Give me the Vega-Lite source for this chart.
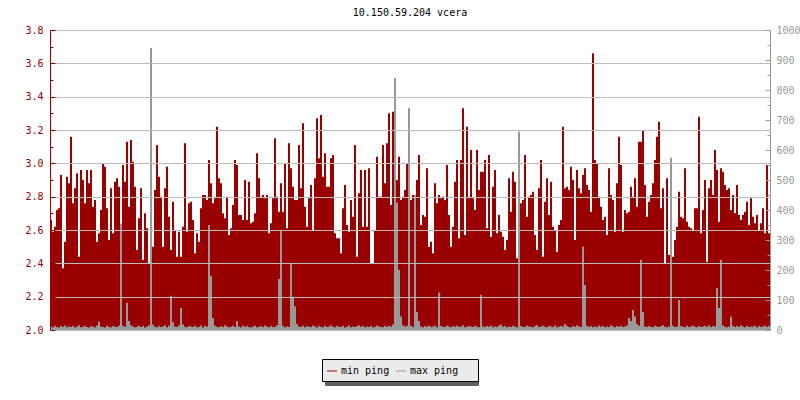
{
"$schema":"https://vega.github.io/schema/vega-lite/v6.json",
"width":720,"height":300,
"autosize":{"type":"none"},
"padding":{"left":50,"top":30,"right":30,"bottom":70},
"background":"white",
"config":{"view":{"stroke":null},"font":"DejaVu Sans Mono"},
"title":{"text":"10.150.59.204 vcera","font":"DejaVu Sans Mono","fontSize":10,"fontWeight":"normal","color":"#000000","anchor":"middle","frame":"group","offset":7},
"datasets":{"ping":[
{"i":0,"mn":2.66,"mx":12},{"i":1,"mn":2.59,"mx":9},{"i":2,"mn":2.62,"mx":14},{"i":3,"mn":2.72,"mx":10},{"i":4,"mn":2.73,"mx":8},{"i":5,"mn":2.93,"mx":13},{"i":6,"mn":2.37,"mx":11},{"i":7,"mn":2.53,"mx":15},{"i":8,"mn":2.92,"mx":9},{"i":9,"mn":2.88,"mx":12},
{"i":10,"mn":3.16,"mx":10},{"i":11,"mn":2.76,"mx":13},{"i":12,"mn":2.85,"mx":8},{"i":13,"mn":2.94,"mx":12},{"i":14,"mn":2.44,"mx":16},{"i":15,"mn":2.96,"mx":9},{"i":16,"mn":2.90,"mx":11},{"i":17,"mn":2.76,"mx":14},{"i":18,"mn":2.96,"mx":10},{"i":19,"mn":2.88,"mx":8},
{"i":20,"mn":2.96,"mx":13},{"i":21,"mn":2.74,"mx":11},{"i":22,"mn":2.78,"mx":9},{"i":23,"mn":2.53,"mx":15},{"i":24,"mn":2.58,"mx":28},{"i":25,"mn":2.72,"mx":12},{"i":26,"mn":3.00,"mx":10},{"i":27,"mn":2.98,"mx":8},{"i":28,"mn":2.73,"mx":14},{"i":29,"mn":2.54,"mx":11},
{"i":30,"mn":2.85,"mx":9},{"i":31,"mn":2.58,"mx":13},{"i":32,"mn":2.89,"mx":12},{"i":33,"mn":2.91,"mx":10},{"i":34,"mn":2.86,"mx":15},{"i":35,"mn":2.58,"mx":355},{"i":36,"mn":2.99,"mx":14},{"i":37,"mn":2.89,"mx":11},{"i":38,"mn":3.13,"mx":91},{"i":39,"mn":2.74,"mx":30},
{"i":40,"mn":3.14,"mx":16},{"i":41,"mn":3.01,"mx":12},{"i":42,"mn":2.86,"mx":9},{"i":43,"mn":2.48,"mx":11},{"i":44,"mn":2.67,"mx":14},{"i":45,"mn":2.85,"mx":10},{"i":46,"mn":2.42,"mx":13},{"i":47,"mn":2.70,"mx":8},{"i":48,"mn":2.61,"mx":12},{"i":49,"mn":2.40,"mx":15},
{"i":50,"mn":2.98,"mx":940},{"i":51,"mn":2.50,"mx":18},{"i":52,"mn":2.84,"mx":11},{"i":53,"mn":3.11,"mx":9},{"i":54,"mn":2.92,"mx":13},{"i":55,"mn":2.80,"mx":10},{"i":56,"mn":2.50,"mx":12},{"i":57,"mn":2.85,"mx":16},{"i":58,"mn":2.98,"mx":9},{"i":59,"mn":2.68,"mx":14},
{"i":60,"mn":2.48,"mx":114},{"i":61,"mn":2.77,"mx":26},{"i":62,"mn":2.60,"mx":12},{"i":63,"mn":2.44,"mx":10},{"i":64,"mn":2.59,"mx":15},{"i":65,"mn":2.44,"mx":73},{"i":66,"mn":2.62,"mx":18},{"i":67,"mn":3.12,"mx":11},{"i":68,"mn":2.59,"mx":9},{"i":69,"mn":2.76,"mx":13},
{"i":70,"mn":2.77,"mx":12},{"i":71,"mn":2.66,"mx":10},{"i":72,"mn":2.46,"mx":14},{"i":73,"mn":2.58,"mx":9},{"i":74,"mn":2.53,"mx":11},{"i":75,"mn":2.73,"mx":15},{"i":76,"mn":2.81,"mx":8},{"i":77,"mn":2.81,"mx":13},{"i":78,"mn":2.78,"mx":12},{"i":79,"mn":3.02,"mx":350},
{"i":80,"mn":2.88,"mx":180},{"i":81,"mn":2.76,"mx":40},{"i":82,"mn":2.79,"mx":14},{"i":83,"mn":3.22,"mx":11},{"i":84,"mn":2.91,"mx":9},{"i":85,"mn":2.88,"mx":13},{"i":86,"mn":2.70,"mx":10},{"i":87,"mn":2.67,"mx":16},{"i":88,"mn":2.80,"mx":12},{"i":89,"mn":2.57,"mx":9},
{"i":90,"mn":2.61,"mx":11},{"i":91,"mn":2.75,"mx":14},{"i":92,"mn":3.02,"mx":10},{"i":93,"mn":2.99,"mx":30},{"i":94,"mn":2.69,"mx":12},{"i":95,"mn":2.69,"mx":9},{"i":96,"mn":2.66,"mx":15},{"i":97,"mn":2.90,"mx":11},{"i":98,"mn":2.66,"mx":13},{"i":99,"mn":2.89,"mx":10},
{"i":100,"mn":2.64,"mx":8},{"i":101,"mn":2.65,"mx":12},{"i":102,"mn":2.70,"mx":14},{"i":103,"mn":3.06,"mx":9},{"i":104,"mn":2.91,"mx":11},{"i":105,"mn":2.80,"mx":13},{"i":106,"mn":2.81,"mx":10},{"i":107,"mn":2.79,"mx":15},{"i":108,"mn":2.81,"mx":12},{"i":109,"mn":2.58,"mx":9},
{"i":110,"mn":2.64,"mx":13},{"i":111,"mn":2.79,"mx":10},{"i":112,"mn":3.15,"mx":11},{"i":113,"mn":2.80,"mx":16},{"i":114,"mn":2.71,"mx":170},{"i":115,"mn":2.88,"mx":334},{"i":116,"mn":2.71,"mx":14},{"i":117,"mn":3.00,"mx":9},{"i":118,"mn":2.61,"mx":12},{"i":119,"mn":3.12,"mx":10},
{"i":120,"mn":2.97,"mx":224},{"i":121,"mn":2.86,"mx":111},{"i":122,"mn":2.78,"mx":78},{"i":123,"mn":2.78,"mx":20},{"i":124,"mn":3.11,"mx":12},{"i":125,"mn":2.85,"mx":10},{"i":126,"mn":3.24,"mx":14},{"i":127,"mn":2.74,"mx":9},{"i":128,"mn":2.62,"mx":13},{"i":129,"mn":2.79,"mx":11},
{"i":130,"mn":2.87,"mx":10},{"i":131,"mn":2.60,"mx":15},{"i":132,"mn":2.91,"mx":12},{"i":133,"mn":3.27,"mx":8},{"i":134,"mn":3.03,"mx":13},{"i":135,"mn":3.29,"mx":11},{"i":136,"mn":2.92,"mx":9},{"i":137,"mn":3.06,"mx":14},{"i":138,"mn":2.86,"mx":10},{"i":139,"mn":2.86,"mx":12},
{"i":140,"mn":3.03,"mx":16},{"i":141,"mn":3.05,"mx":11},{"i":142,"mn":2.58,"mx":9},{"i":143,"mn":2.55,"mx":13},{"i":144,"mn":2.55,"mx":12},{"i":145,"mn":2.46,"mx":10},{"i":146,"mn":2.73,"mx":14},{"i":147,"mn":2.87,"mx":8},{"i":148,"mn":2.63,"mx":11},{"i":149,"mn":2.59,"mx":15},
{"i":150,"mn":2.78,"mx":9},{"i":151,"mn":2.68,"mx":12},{"i":152,"mn":3.11,"mx":10},{"i":153,"mn":2.44,"mx":13},{"i":154,"mn":2.82,"mx":16},{"i":155,"mn":2.96,"mx":11},{"i":156,"mn":2.62,"mx":14},{"i":157,"mn":2.96,"mx":9},{"i":158,"mn":2.62,"mx":12},{"i":159,"mn":2.97,"mx":10},
{"i":160,"mn":2.40,"mx":13},{"i":161,"mn":2.40,"mx":8},{"i":162,"mn":2.60,"mx":11},{"i":163,"mn":3.04,"mx":15},{"i":164,"mn":2.80,"mx":12},{"i":165,"mn":2.80,"mx":10},{"i":166,"mn":3.11,"mx":9},{"i":167,"mn":2.88,"mx":14},{"i":168,"mn":3.12,"mx":11},{"i":169,"mn":3.30,"mx":13},
{"i":170,"mn":2.75,"mx":12},{"i":171,"mn":3.31,"mx":18},{"i":172,"mn":2.92,"mx":840},{"i":173,"mn":2.90,"mx":425},{"i":174,"mn":3.04,"mx":200},{"i":175,"mn":2.78,"mx":45},{"i":176,"mn":2.80,"mx":16},{"i":177,"mn":2.84,"mx":12},{"i":178,"mn":3.00,"mx":14},{"i":179,"mn":3.02,"mx":740},
{"i":180,"mn":2.78,"mx":14},{"i":181,"mn":2.81,"mx":10},{"i":182,"mn":2.70,"mx":451},{"i":183,"mn":2.90,"mx":60},{"i":184,"mn":3.05,"mx":30},{"i":185,"mn":2.63,"mx":12},{"i":186,"mn":2.69,"mx":9},{"i":187,"mn":2.68,"mx":13},{"i":188,"mn":2.97,"mx":11},{"i":189,"mn":2.50,"mx":15},
{"i":190,"mn":2.53,"mx":10},{"i":191,"mn":2.46,"mx":12},{"i":192,"mn":2.88,"mx":14},{"i":193,"mn":2.76,"mx":9},{"i":194,"mn":2.81,"mx":125},{"i":195,"mn":2.79,"mx":13},{"i":196,"mn":2.80,"mx":11},{"i":197,"mn":2.78,"mx":10},{"i":198,"mn":2.99,"mx":15},{"i":199,"mn":2.69,"mx":12},
{"i":200,"mn":2.50,"mx":9},{"i":201,"mn":2.62,"mx":13},{"i":202,"mn":2.89,"mx":11},{"i":203,"mn":3.02,"mx":14},{"i":204,"mn":2.55,"mx":10},{"i":205,"mn":3.02,"mx":12},{"i":206,"mn":3.33,"mx":16},{"i":207,"mn":2.57,"mx":9},{"i":208,"mn":3.22,"mx":11},{"i":209,"mn":2.79,"mx":13},
{"i":210,"mn":3.08,"mx":12},{"i":211,"mn":2.79,"mx":10},{"i":212,"mn":2.72,"mx":14},{"i":213,"mn":3.08,"mx":11},{"i":214,"mn":2.84,"mx":9},{"i":215,"mn":2.95,"mx":117},{"i":216,"mn":2.95,"mx":12},{"i":217,"mn":3.02,"mx":10},{"i":218,"mn":2.61,"mx":13},{"i":219,"mn":3.05,"mx":11},
{"i":220,"mn":2.56,"mx":15},{"i":221,"mn":2.86,"mx":9},{"i":222,"mn":2.96,"mx":12},{"i":223,"mn":2.58,"mx":10},{"i":224,"mn":2.69,"mx":14},{"i":225,"mn":2.59,"mx":18},{"i":226,"mn":2.56,"mx":11},{"i":227,"mn":2.48,"mx":13},{"i":228,"mn":2.54,"mx":9},{"i":229,"mn":2.91,"mx":12},
{"i":230,"mn":2.71,"mx":10},{"i":231,"mn":2.95,"mx":14},{"i":232,"mn":2.89,"mx":12},{"i":233,"mn":2.43,"mx":9},{"i":234,"mn":2.54,"mx":662},{"i":235,"mn":2.76,"mx":13},{"i":236,"mn":2.78,"mx":11},{"i":237,"mn":3.05,"mx":10},{"i":238,"mn":2.68,"mx":15},{"i":239,"mn":2.80,"mx":12},
{"i":240,"mn":2.81,"mx":11},{"i":241,"mn":2.83,"mx":9},{"i":242,"mn":2.57,"mx":13},{"i":243,"mn":2.48,"mx":16},{"i":244,"mn":2.85,"mx":10},{"i":245,"mn":3.02,"mx":12},{"i":246,"mn":2.44,"mx":14},{"i":247,"mn":2.77,"mx":11},{"i":248,"mn":2.91,"mx":9},{"i":249,"mn":2.69,"mx":13},
{"i":250,"mn":2.89,"mx":12},{"i":251,"mn":2.62,"mx":10},{"i":252,"mn":2.60,"mx":15},{"i":253,"mn":2.47,"mx":9},{"i":254,"mn":2.63,"mx":11},{"i":255,"mn":2.66,"mx":13},{"i":256,"mn":3.22,"mx":12},{"i":257,"mn":2.85,"mx":20},{"i":258,"mn":2.86,"mx":14},{"i":259,"mn":2.84,"mx":10},
{"i":260,"mn":2.98,"mx":9},{"i":261,"mn":2.90,"mx":13},{"i":262,"mn":2.54,"mx":11},{"i":263,"mn":2.96,"mx":16},{"i":264,"mn":2.85,"mx":12},{"i":265,"mn":2.82,"mx":10},{"i":266,"mn":2.93,"mx":278},{"i":267,"mn":2.97,"mx":150},{"i":268,"mn":2.87,"mx":14},{"i":269,"mn":2.84,"mx":11},
{"i":270,"mn":2.71,"mx":13},{"i":271,"mn":3.66,"mx":9},{"i":272,"mn":3.02,"mx":12},{"i":273,"mn":3.00,"mx":10},{"i":274,"mn":2.80,"mx":15},{"i":275,"mn":2.74,"mx":11},{"i":276,"mn":2.66,"mx":14},{"i":277,"mn":2.68,"mx":9},{"i":278,"mn":2.57,"mx":12},{"i":279,"mn":2.97,"mx":10},
{"i":280,"mn":2.81,"mx":16},{"i":281,"mn":2.78,"mx":12},{"i":282,"mn":2.59,"mx":9},{"i":283,"mn":2.88,"mx":13},{"i":284,"mn":3.16,"mx":11},{"i":285,"mn":2.99,"mx":14},{"i":286,"mn":2.59,"mx":10},{"i":287,"mn":2.72,"mx":12},{"i":288,"mn":2.70,"mx":15},{"i":289,"mn":2.71,"mx":40},
{"i":290,"mn":2.86,"mx":30},{"i":291,"mn":2.80,"mx":67},{"i":292,"mn":2.91,"mx":45},{"i":293,"mn":2.74,"mx":20},{"i":294,"mn":3.13,"mx":14},{"i":295,"mn":3.13,"mx":234},{"i":296,"mn":3.20,"mx":60},{"i":297,"mn":2.87,"mx":12},{"i":298,"mn":2.68,"mx":10},{"i":299,"mn":2.77,"mx":13},
{"i":300,"mn":2.81,"mx":11},{"i":301,"mn":2.88,"mx":9},{"i":302,"mn":3.02,"mx":14},{"i":303,"mn":3.16,"mx":12},{"i":304,"mn":3.25,"mx":10},{"i":305,"mn":2.73,"mx":13},{"i":306,"mn":2.85,"mx":16},{"i":307,"mn":2.40,"mx":11},{"i":308,"mn":2.91,"mx":9},{"i":309,"mn":2.45,"mx":12},
{"i":310,"mn":2.72,"mx":574},{"i":311,"mn":2.44,"mx":14},{"i":312,"mn":2.54,"mx":10},{"i":313,"mn":2.62,"mx":12},{"i":314,"mn":2.83,"mx":100},{"i":315,"mn":2.68,"mx":13},{"i":316,"mn":2.67,"mx":11},{"i":317,"mn":2.97,"mx":9},{"i":318,"mn":2.65,"mx":14},{"i":319,"mn":2.62,"mx":10},
{"i":320,"mn":2.61,"mx":12},{"i":321,"mn":2.60,"mx":15},{"i":322,"mn":2.73,"mx":11},{"i":323,"mn":2.73,"mx":9},{"i":324,"mn":3.28,"mx":13},{"i":325,"mn":2.58,"mx":10},{"i":326,"mn":2.72,"mx":12},{"i":327,"mn":2.90,"mx":14},{"i":328,"mn":2.41,"mx":11},{"i":329,"mn":2.85,"mx":16},
{"i":330,"mn":2.90,"mx":10},{"i":331,"mn":2.81,"mx":13},{"i":332,"mn":3.08,"mx":12},{"i":333,"mn":2.96,"mx":140},{"i":334,"mn":2.65,"mx":73},{"i":335,"mn":2.97,"mx":234},{"i":336,"mn":2.95,"mx":15},{"i":337,"mn":2.87,"mx":11},{"i":338,"mn":2.84,"mx":9},{"i":339,"mn":2.85,"mx":12},
{"i":340,"mn":2.72,"mx":45},{"i":341,"mn":2.81,"mx":14},{"i":342,"mn":2.70,"mx":10},{"i":343,"mn":2.87,"mx":13},{"i":344,"mn":2.69,"mx":11},{"i":345,"mn":2.66,"mx":16},{"i":346,"mn":2.69,"mx":12},{"i":347,"mn":2.71,"mx":9},{"i":348,"mn":2.77,"mx":14},{"i":349,"mn":2.63,"mx":10},
{"i":350,"mn":2.79,"mx":12},{"i":351,"mn":2.68,"mx":11},{"i":352,"mn":2.64,"mx":15},{"i":353,"mn":2.69,"mx":9},{"i":354,"mn":2.60,"mx":13},{"i":355,"mn":2.64,"mx":10},{"i":356,"mn":2.73,"mx":12},{"i":357,"mn":2.58,"mx":14},{"i":358,"mn":2.99,"mx":11},{"i":359,"mn":2.58,"mx":13}
],
"shade":[{"v":0},{"v":1}]},
"layer":[
{"data":{"name":"ping"},
 "mark":{"type":"bar","width":2,"clip":true},
 "encoding":{
  "x":{"field":"i","type":"quantitative","scale":{"domain":[-0.5,359.5],"nice":false,"zero":false,"padding":0},
   "axis":{"orient":"bottom","title":null,"grid":false,"values":[-0.5,29.75,60,90.25,120.5,150.75,181,211.25,241.5,271.75,302,332.25],
    "labelExpr":"['19:23','21:24','23:25','01:26','03:27','05:29','07:30','09:31','11:32','13:33','15:34','17:35'][round((datum.value+0.5)/30.25)]",
    "labelFont":"DejaVu Sans Mono","labelFontSize":10,"labelColor":"#000000","labelFlush":false,"labelOverlap":false,
    "domainColor":"#000000","tickColor":"#000000","tickSize":-3,"labelPadding":1,"zindex":1}},
  "y":{"field":"mn","type":"quantitative","scale":{"domain":[2,3.8],"nice":false,"zero":false},
   "axis":{"orient":"left","title":null,"values":[2,2.1,2.2,2.3,2.4,2.5,2.6,2.7,2.8,2.9,3,3.1,3.2,3.3,3.4,3.5,3.6,3.7,3.8],
    "labelExpr":"round(datum.value*10) % 2 == 0 ? format(datum.value, '.1f') : ''",
    "labelFont":"DejaVu Sans Mono","labelFontSize":10,"labelColor":"#990000","labelOverlap":false,
    "domainColor":"#990000","tickColor":"#990000",
    "tickSize":{"condition":{"test":"round(datum.value*10) % 2 == 0","value":-5},"value":-3},
    "labelPadding":12,"grid":true,"gridColor":"#bbbbbb",
    "gridOpacity":{"condition":{"test":"round(datum.value*10) % 2 == 0","value":1},"value":0},"zindex":1}},
  "y2":{"datum":2},
  "color":{"datum":"min ping","type":"nominal","scale":{"domain":["min ping","max ping"],"range":["#990000","#999999"]},
   "legend":{"orient":"none","legendX":272,"legendY":329,"direction":"horizontal","title":null,
    "fillColor":"#ebebeb","strokeColor":"#000000","padding":5,"columnPadding":6,
    "symbolType":"M-1,-0.0714H0.4286V0.0714H-1Z","symbolSize":196,"symbolStrokeWidth":0,"symbolOpacity":1,
    "labelFont":"DejaVu Sans Mono","labelFontSize":10,"labelColor":"#000000","labelOffset":0,
    "labelExpr":"datum.label == 'max ping' ? datum.label + '\u2800\u2800' : datum.label","zindex":2}}
 }},
{"data":{"name":"ping"},
 "mark":{"type":"bar","width":2,"clip":true},
 "encoding":{
  "x":{"field":"i","type":"quantitative","scale":{"domain":[-0.5,359.5],"nice":false,"zero":false,"padding":0},"axis":null},
  "y":{"field":"mx","type":"quantitative","scale":{"domain":[0,1000],"nice":false,"zero":false},
   "axis":{"orient":"right","title":null,"values":[0,50,100,150,200,250,300,350,400,450,500,550,600,650,700,750,800,850,900,950,1000],
    "labelExpr":"datum.value % 100 == 0 ? format(datum.value, 'd') : ''",
    "labelFont":"DejaVu Sans Mono","labelFontSize":10,"labelColor":"#999999","labelOverlap":false,
    "domainColor":"#999999","tickColor":"#999999",
    "tickSize":{"condition":{"test":"datum.value % 100 == 0","value":-5},"value":-3},
    "labelPadding":11,"grid":false,"zindex":1}},
  "y2":{"datum":0},
  "color":{"datum":"max ping","type":"nominal"}
 }},
{"data":{"name":"shade"},
 "mark":{"type":"point","opacity":0,"filled":true},
 "encoding":{
  "fill":{"field":"v","type":"quantitative","scale":{"domain":[0,1],"range":["#5f5f5f","#5f5f5f"]},
   "legend":{"orient":"none","legendX":275,"legendY":332,"direction":"horizontal","title":null,"type":"gradient",
    "fillColor":"#5f5f5f","strokeColor":"#5f5f5f","padding":5,
    "gradientLength":143,"gradientThickness":12,"gradientStrokeWidth":0,
    "labelExpr":"''","labelFontSize":1,"labelOffset":0,"zindex":1}}
 }}
],
"resolve":{"scale":{"y":"independent"},"axis":{"y":"independent"}}
}
